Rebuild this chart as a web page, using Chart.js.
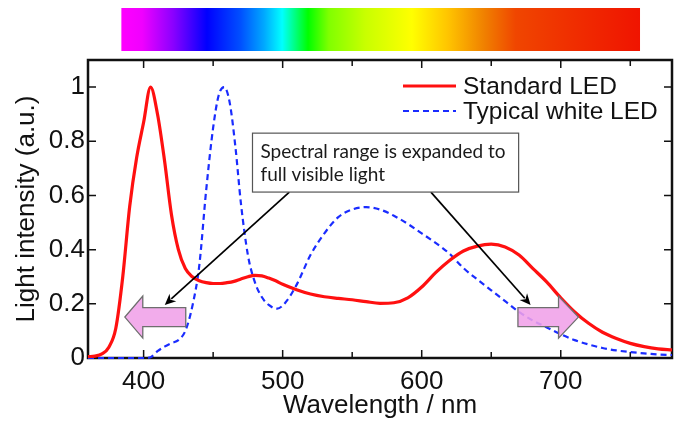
<!DOCTYPE html>
<html>
<head>
<meta charset="utf-8">
<script src="https://cdn.jsdelivr.net/npm/chart.js@4.4.1/dist/chart.umd.min.js"></script>
<style>
  html, body { margin: 0; padding: 0; background: #fff; }
  #wrap { width: 677px; height: 421px; position: relative; }
</style>
</head>
<body>
<div id="wrap"><canvas id="c" width="677" height="421"></canvas></div>
<script>
// ---- data ----
const redWavelengths = [360,365,370,375,380,385,390,395,400,405,410,415,420,425,430,435,440,445,450,455,460,465,470,475,480,485,490,495,500,510,520,530,540,550,560,570,580,590,600,610,620,630,640,650,660,670,680,690,700,710,720,730,740,750,760,770,780];
const standardLED = [0.005,0.007,0.015,0.04,0.11,0.30,0.56,0.74,0.87,1.0,0.90,0.73,0.53,0.40,0.33,0.30,0.285,0.278,0.275,0.275,0.278,0.283,0.292,0.30,0.305,0.303,0.295,0.285,0.272,0.252,0.236,0.226,0.22,0.215,0.208,0.202,0.204,0.222,0.262,0.315,0.36,0.395,0.413,0.42,0.41,0.38,0.33,0.28,0.222,0.17,0.128,0.095,0.072,0.054,0.042,0.034,0.03];

const blueWavelengths = [360,380,400,405,410,415,420,425,430,435,440,445,450,454,458,462,466,470,475,480,485,490,496,502,510,520,530,540,550,560,570,580,590,600,610,620,630,640,650,660,670,680,690,700,710,720,730,740,750,760,770,780];
const whiteLED = [0,0,0,0.003,0.025,0.042,0.055,0.066,0.10,0.19,0.34,0.62,0.85,0.97,1.0,0.94,0.78,0.57,0.38,0.28,0.225,0.196,0.182,0.205,0.27,0.38,0.46,0.52,0.548,0.557,0.548,0.525,0.495,0.46,0.425,0.385,0.332,0.29,0.25,0.21,0.17,0.138,0.113,0.088,0.066,0.05,0.037,0.028,0.022,0.017,0.013,0.011];

const seriesNames = ['Standard LED', 'Typical white LED'];
const xTickValues = [400, 500, 600, 700];
const xMinorTickValues = [450, 550, 650, 750];
const yTickValues = [0, 0.2, 0.4, 0.6, 0.8, 1];
const yTickLabels = ['0', '0.2', '0.4', '0.6', '0.8', '1'];
const xTitle = 'Wavelength / nm';
const yTitle = 'Light intensity (a.u.)';
const noteLines = ['Spectral range is expanded to', 'full visible light'];

const FONT = "'Liberation Sans', Arial, sans-serif";

const frame = {
  id: 'frame',
  beforeDatasetsDraw(chart) {
    const ctx = chart.ctx;
    const xs = chart.scales.x, ys = chart.scales.y;
    const ca = chart.chartArea;
    const X = v => xs.getPixelForValue(v);
    const Y = v => ys.getPixelForValue(v);
    ctx.save();
    ctx.strokeStyle = '#111';
    ctx.lineWidth = 2.5;
    ctx.strokeRect(ca.left, ca.top, ca.right - ca.left, ca.bottom - ca.top);
    ctx.lineWidth = 1.5;
    ctx.beginPath();
    xTickValues.forEach(v => {
      const p = X(v);
      ctx.moveTo(p, ca.bottom); ctx.lineTo(p, ca.bottom - 8);
      ctx.moveTo(p, ca.top); ctx.lineTo(p, ca.top + 8);
    });
    xMinorTickValues.forEach(v => {
      const p = X(v);
      ctx.moveTo(p, ca.bottom); ctx.lineTo(p, ca.bottom - 6);
      ctx.moveTo(p, ca.top); ctx.lineTo(p, ca.top + 6);
    });
    yTickValues.forEach(v => {
      const p = Y(v);
      ctx.moveTo(ca.left, p); ctx.lineTo(ca.left + 8, p);
      ctx.moveTo(ca.right, p); ctx.lineTo(ca.right - 8, p);
    });
    ctx.stroke();
    ctx.restore();
  }
};

const overlay = {
  id: 'overlay',
  afterDatasetsDraw(chart) {
    const ctx = chart.ctx;
    const xs = chart.scales.x, ys = chart.scales.y;
    const X = v => xs.getPixelForValue(v);
    const Y = v => ys.getPixelForValue(v);
    ctx.save();

    // spectrum bar
    const bx0 = X(384), bx1 = X(757);
    const g = ctx.createLinearGradient(bx0, 0, bx1, 0);
    const stops = [[0,'#ff00ff'],[0.04,'#f000ff'],[0.1,'#8a00ff'],[0.165,'#0000ff'],[0.23,'#0050ff'],[0.275,'#00a8ff'],[0.31,'#00ffff'],[0.36,'#00ff00'],[0.4,'#80ff00'],[0.47,'#c8ff00'],[0.56,'#ffff00'],[0.63,'#ffc400'],[0.7,'#f08000'],[0.76,'#f04600'],[0.86,'#f03000'],[1,'#f01400']];
    stops.forEach(s => g.addColorStop(s[0], s[1]));
    ctx.fillStyle = g;
    ctx.fillRect(bx0, 8, bx1 - bx0, 43);

    // pink arrows (semi-transparent)
    function pinkArrow(xBack, xHeadBase, xTip, yc) {
      const px0 = X(xBack), px1 = X(xHeadBase), pt = X(xTip), py = Y(yc);
      const bh = 9.5, hh = 21;
      ctx.beginPath();
      ctx.moveTo(px0, py - bh);
      ctx.lineTo(px1, py - bh);
      ctx.lineTo(px1, py - hh);
      ctx.lineTo(pt, py);
      ctx.lineTo(px1, py + hh);
      ctx.lineTo(px1, py + bh);
      ctx.lineTo(px0, py + bh);
      ctx.closePath();
      ctx.fillStyle = 'rgba(240,160,232,0.88)';
      ctx.fill();
      ctx.strokeStyle = '#6e6e6e';
      ctx.lineWidth = 1.3;
      ctx.stroke();
    }
    pinkArrow(430.3, 399.4, 386.5, 0.151);
    pinkArrow(669.2, 698.4, 712.7, 0.151);

    // black pointer arrows
    function blackArrow(x0, y0, x1, y1) {
      const ax = X(x0), ay = Y(y0), bx = X(x1), by = Y(y1);
      const ang = Math.atan2(by - ay, bx - ax);
      const L = 11, W = 5;
      ctx.strokeStyle = '#000';
      ctx.lineWidth = 1.7;
      ctx.beginPath();
      ctx.moveTo(ax, ay);
      ctx.lineTo(bx - Math.cos(ang) * L * 0.8, by - Math.sin(ang) * L * 0.8);
      ctx.stroke();
      ctx.beginPath();
      ctx.moveTo(bx, by);
      ctx.lineTo(bx - Math.cos(ang) * L + Math.sin(ang) * W, by - Math.sin(ang) * L - Math.cos(ang) * W);
      ctx.lineTo(bx - Math.cos(ang) * L * 0.7, by - Math.sin(ang) * L * 0.7);
      ctx.lineTo(bx - Math.cos(ang) * L - Math.sin(ang) * W, by - Math.sin(ang) * L + Math.cos(ang) * W);
      ctx.closePath();
      ctx.fillStyle = '#000';
      ctx.fill();
    }
    blackArrow(504.8, 0.6125, 415.2, 0.196);
    blackArrow(606.6, 0.6125, 678.3, 0.196);

    // note box
    const nx0 = X(478.3), nx1 = X(669.7), ny0 = Y(0.830), ny1 = Y(0.6125);
    ctx.fillStyle = '#fff';
    ctx.fillRect(nx0, ny0, nx1 - nx0, ny1 - ny0);
    ctx.strokeStyle = '#555';
    ctx.lineWidth = 1.2;
    ctx.strokeRect(nx0, ny0, nx1 - nx0, ny1 - ny0);
    ctx.fillStyle = '#1a1a1a';
    ctx.font = "19px Lato, 'Open Sans', sans-serif";
    ctx.textBaseline = 'middle';
    ctx.textAlign = 'left';
    ctx.fillText(noteLines[0], nx0 + 8, ny0 + 19);
    ctx.fillText(noteLines[1], nx0 + 8, ny0 + 42);

    // legend
    const ds = chart.data.datasets;
    const lx0 = 403, lx1 = 456;
    [86, 111].forEach((ly, i) => {
      ctx.beginPath();
      ctx.strokeStyle = ds[i].borderColor;
      ctx.lineWidth = ds[i].borderWidth;
      ctx.setLineDash(ds[i].borderDash || []);
      ctx.moveTo(lx0, ly);
      ctx.lineTo(lx1, ly);
      ctx.stroke();
      ctx.setLineDash([]);
      ctx.fillStyle = '#111';
      ctx.font = '24.5px ' + FONT;
      ctx.textBaseline = 'middle';
      ctx.fillText(ds[i].label, 463, ly + 1);
    });
    ctx.restore();
  }
};

new Chart(document.getElementById('c'), {
  type: 'line',
  data: {
    datasets: [
      {
        label: seriesNames[0],
        data: redWavelengths.map((w, i) => ({ x: w, y: standardLED[i] })),
        borderColor: '#ff1010',
        borderWidth: 3.2,
        pointRadius: 0,
        cubicInterpolationMode: 'monotone',
        clip: 4,
        fill: false
      },
      {
        label: seriesNames[1],
        data: blueWavelengths.map((w, i) => ({ x: w, y: whiteLED[i] })),
        borderColor: '#1a2cff',
        borderWidth: 2.2,
        borderDash: [6, 4],
        pointRadius: 0,
        cubicInterpolationMode: 'monotone',
        clip: 4,
        fill: false
      }
    ]
  },
  options: {
    responsive: false,
    animation: false,
    devicePixelRatio: 1,
    layout: { padding: { top: 60, right: 5, left: 0, bottom: 0 } },
    plugins: { legend: { display: false }, tooltip: { enabled: false } },
    scales: {
      x: {
        type: 'linear',
        min: 360, max: 780,
        grid: { display: false, drawTicks: false },
        border: { display: false },
        afterBuildTicks: s => { s.ticks = xTickValues.map(v => ({ value: v })); },
        afterFit: s => { s.height = 63; },
        ticks: {
          color: '#111',
          padding: 8,
          font: { family: FONT, size: 26 },
          maxRotation: 0,
          callback: v => String(v)
        },
        title: {
          display: true, text: xTitle, color: '#111',
          font: { family: FONT, size: 26 },
          padding: { top: 0, bottom: 0 }
        }
      },
      y: {
        type: 'linear',
        min: 0, max: 1.1,
        grid: { display: false, drawTicks: false },
        border: { display: false },
        afterBuildTicks: s => { s.ticks = yTickValues.map(v => ({ value: v })); },
        afterFit: s => { s.width = 88; },
        ticks: {
          color: '#111',
          padding: 3,
          font: { family: FONT, size: 26 },
          callback: (v) => yTickLabels[yTickValues.indexOf(v)] ?? ''
        },
        title: {
          display: true, text: yTitle, color: '#111',
          font: { family: FONT, size: 26 },
          padding: { top: 11, bottom: 0 }
        }
      }
    }
  },
  plugins: [frame, overlay]
});
</script>
</body>
</html>
